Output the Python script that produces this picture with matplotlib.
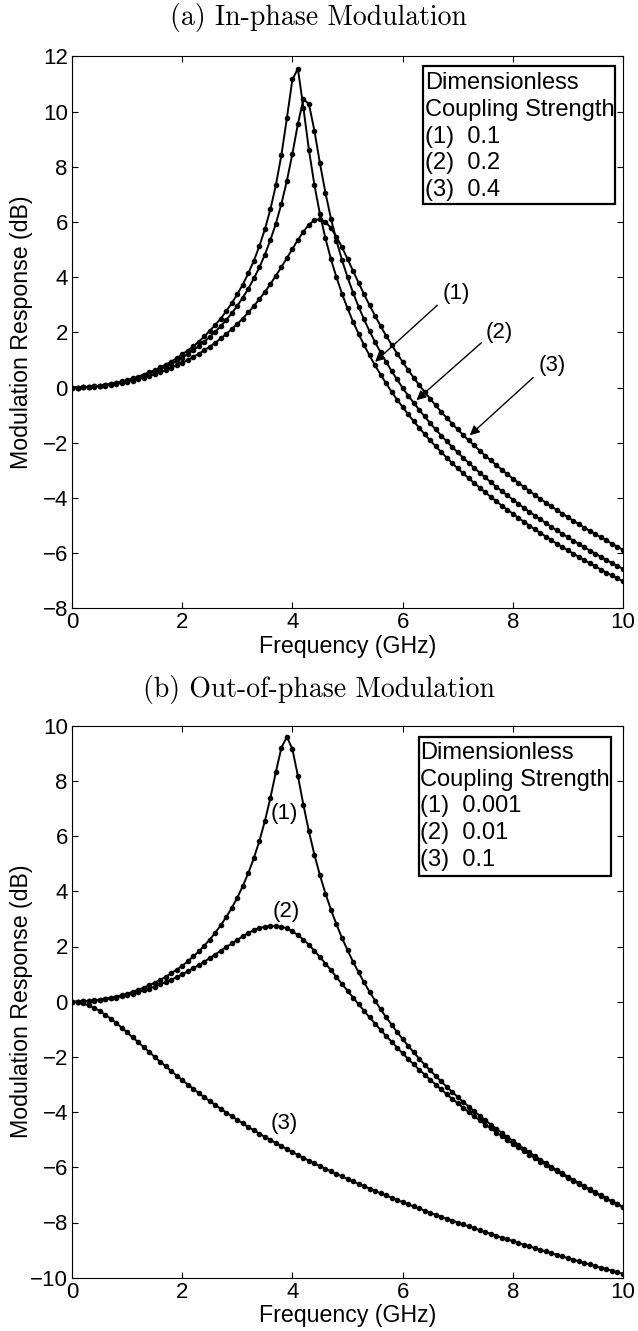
import numpy as np
import matplotlib
matplotlib.use('Agg')
import matplotlib.pyplot as plt
from matplotlib.patches import Rectangle

# Frequency grid (GHz), 0.1 GHz steps
freq = np.linspace(0, 10, 101)

# (a) In-phase modulation, dimensionless coupling strength 0.1 / 0.2 / 0.4
in_phase_1 = [0.00, 0.00, 0.01, 0.02, 0.04, 0.07, 0.10, 0.13, 0.17, 0.22,
              0.27, 0.33, 0.39, 0.47, 0.55, 0.63, 0.73, 0.83, 0.94, 1.06,
              1.20, 1.34, 1.49, 1.66, 1.85, 2.05, 2.27, 2.50, 2.77, 3.06,
              3.38, 3.73, 4.14, 4.59, 5.12, 5.73, 6.45, 7.33, 8.42, 9.76,
              11.16, 11.55, 10.13, 8.61, 7.33, 6.28, 5.40, 4.65, 3.99, 3.40,
              2.87, 2.39, 1.95, 1.54, 1.16, 0.80, 0.47, 0.15, -0.15, -0.44,
              -0.71, -0.97, -1.22, -1.46, -1.69, -1.92, -2.13, -2.34, -2.54, -2.74,
              -2.93, -3.11, -3.29, -3.46, -3.63, -3.80, -3.96, -4.12, -4.28, -4.43,
              -4.57, -4.72, -4.86, -5.00, -5.14, -5.27, -5.40, -5.53, -5.66, -5.78,
              -5.90, -6.02, -6.14, -6.26, -6.37, -6.48, -6.60, -6.71, -6.81, -6.92,
              -7.02]
in_phase_2 = [0.00, 0.00, 0.01, 0.02, 0.04, 0.06, 0.09, 0.12, 0.16, 0.20,
              0.25, 0.30, 0.36, 0.42, 0.50, 0.57, 0.66, 0.75, 0.85, 0.96,
              1.08, 1.21, 1.35, 1.49, 1.66, 1.83, 2.02, 2.22, 2.45, 2.69,
              2.96, 3.26, 3.58, 3.95, 4.35, 4.81, 5.34, 5.94, 6.65, 7.49,
              8.47, 9.55, 10.45, 10.27, 9.30, 8.12, 7.05, 6.12, 5.32, 4.62,
              4.00, 3.44, 2.93, 2.47, 2.04, 1.65, 1.27, 0.93, 0.60, 0.29,
              -0.01, -0.29, -0.55, -0.81, -1.05, -1.29, -1.52, -1.74, -1.95, -2.15,
              -2.35, -2.55, -2.73, -2.91, -3.09, -3.26, -3.43, -3.60, -3.75, -3.91,
              -4.06, -4.21, -4.36, -4.50, -4.64, -4.78, -4.91, -5.05, -5.18, -5.30,
              -5.43, -5.55, -5.67, -5.79, -5.91, -6.02, -6.14, -6.25, -6.36, -6.47,
              -6.57]
in_phase_3 = [0.00, 0.00, 0.01, 0.02, 0.03, 0.05, 0.07, 0.10, 0.13, 0.17,
              0.21, 0.25, 0.30, 0.36, 0.42, 0.48, 0.55, 0.63, 0.71, 0.80,
              0.89, 1.00, 1.10, 1.22, 1.35, 1.48, 1.62, 1.78, 1.94, 2.12,
              2.30, 2.50, 2.72, 2.95, 3.20, 3.46, 3.75, 4.05, 4.36, 4.69,
              5.02, 5.35, 5.65, 5.90, 6.06, 6.10, 6.00, 5.78, 5.46, 5.08,
              4.66, 4.23, 3.80, 3.38, 2.98, 2.60, 2.23, 1.88, 1.55, 1.23,
              0.93, 0.64, 0.36, 0.09, -0.16, -0.41, -0.65, -0.88, -1.10, -1.31,
              -1.52, -1.72, -1.92, -2.10, -2.29, -2.47, -2.64, -2.81, -2.98, -3.14,
              -3.30, -3.45, -3.60, -3.75, -3.89, -4.04, -4.17, -4.31, -4.44, -4.57,
              -4.70, -4.83, -4.95, -5.08, -5.20, -5.31, -5.43, -5.54, -5.66, -5.77,
              -5.88]

# (b) Out-of-phase modulation, dimensionless coupling strength 0.001 / 0.01 / 0.1
out_phase_1 = [0.00, 0.00, 0.01, 0.03, 0.05, 0.07, 0.10, 0.14, 0.18, 0.23,
               0.29, 0.36, 0.43, 0.51, 0.59, 0.69, 0.79, 0.90, 1.03, 1.16,
               1.30, 1.46, 1.64, 1.82, 2.03, 2.25, 2.50, 2.77, 3.07, 3.40,
               3.77, 4.19, 4.66, 5.20, 5.82, 6.54, 7.38, 8.32, 9.20, 9.60,
               9.15, 8.18, 7.13, 6.17, 5.32, 4.58, 3.92, 3.33, 2.80, 2.31,
               1.87, 1.45, 1.07, 0.70, 0.36, 0.04, -0.27, -0.56, -0.83, -1.10,
               -1.35, -1.60, -1.83, -2.06, -2.28, -2.49, -2.69, -2.89, -3.08, -3.27,
               -3.45, -3.63, -3.80, -3.97, -4.13, -4.29, -4.45, -4.60, -4.75, -4.90,
               -5.04, -5.18, -5.32, -5.46, -5.59, -5.72, -5.85, -5.98, -6.10, -6.22,
               -6.34, -6.46, -6.57, -6.69, -6.80, -6.91, -7.02, -7.13, -7.23, -7.34,
               -7.44]
out_phase_2 = [0.00, 0.00, 0.01, 0.02, 0.04, 0.06, 0.09, 0.12, 0.15, 0.19,
               0.24, 0.29, 0.35, 0.41, 0.47, 0.55, 0.63, 0.71, 0.80, 0.89,
               0.99, 1.10, 1.21, 1.33, 1.45, 1.58, 1.71, 1.85, 1.98, 2.11,
               2.24, 2.37, 2.49, 2.59, 2.67, 2.72, 2.74, 2.74, 2.72, 2.66,
               2.55, 2.41, 2.25, 2.06, 1.84, 1.62, 1.38, 1.14, 0.89, 0.64,
               0.40, 0.15, -0.09, -0.33, -0.57, -0.79, -1.02, -1.24, -1.45, -1.66,
               -1.87, -2.07, -2.27, -2.46, -2.64, -2.83, -3.00, -3.18, -3.35, -3.52,
               -3.68, -3.84, -4.00, -4.15, -4.30, -4.45, -4.59, -4.74, -4.87, -5.01,
               -5.15, -5.28, -5.41, -5.54, -5.66, -5.79, -5.91, -6.03, -6.15, -6.26,
               -6.38, -6.49, -6.60, -6.71, -6.82, -6.93, -7.03, -7.14, -7.24, -7.34,
               -7.44]
out_phase_3 = [0.00, -0.01, -0.06, -0.13, -0.22, -0.33, -0.47, -0.61, -0.77, -0.94,
               -1.11, -1.29, -1.46, -1.64, -1.82, -2.00, -2.17, -2.34, -2.51, -2.68,
               -2.84, -3.00, -3.15, -3.31, -3.46, -3.60, -3.74, -3.88, -4.02, -4.15,
               -4.28, -4.41, -4.54, -4.66, -4.78, -4.90, -5.01, -5.12, -5.23, -5.34,
               -5.45, -5.55, -5.66, -5.76, -5.86, -5.96, -6.05, -6.15, -6.24, -6.33,
               -6.42, -6.51, -6.60, -6.69, -6.77, -6.86, -6.94, -7.02, -7.10, -7.18,
               -7.26, -7.34, -7.42, -7.49, -7.57, -7.64, -7.72, -7.79, -7.86, -7.93,
               -8.00, -8.07, -8.14, -8.21, -8.28, -8.35, -8.41, -8.48, -8.55, -8.61,
               -8.67, -8.74, -8.80, -8.86, -8.93, -8.99, -9.05, -9.11, -9.17, -9.23,
               -9.29, -9.35, -9.41, -9.47, -9.52, -9.58, -9.64, -9.69, -9.75, -9.81,
               -9.86]

titles = ['(a) In-phase Modulation', '(b) Out-of-phase Modulation']
legend_a = ['Dimensionless', 'Coupling Strength', '(1)  0.1', '(2)  0.2', '(3)  0.4']
legend_b = ['Dimensionless', 'Coupling Strength', '(1)  0.001', '(2)  0.01', '(3)  0.1']
curve_labels = ['(1)', '(2)', '(3)']

plt.rcParams['font.family'] = ['Liberation Sans', 'DejaVu Sans']
fig = plt.figure(figsize=(6.38, 13.31), dpi=100)
ax1 = fig.add_axes([72/638, 1-608.3/1331, 551/638, 552/1331])
ax2 = fig.add_axes([72/638, 1-1277.7/1331, 551/638, 552/1331])
for ax, ys, yl in [(ax1, [in_phase_1, in_phase_2, in_phase_3], (-8, 12)),
                   (ax2, [out_phase_1, out_phase_2, out_phase_3], (-10, 10))]:
    for y in ys:
        ax.plot(freq, y, '-', color='black', lw=1.4, marker='o', ms=3.0)
    ax.set_xlim(0, 10); ax.set_ylim(*yl)
    ax.set_xticks(range(0, 11, 2)); ax.set_yticks(range(yl[0], yl[1]+1, 2))
    ax.tick_params(direction='in', length=4, top=True, right=True, labelsize=16, pad=3)
    ax.set_xlabel('Frequency (GHz)', fontsize=16.7)
    ax.set_ylabel('Modulation Response (dB)', fontsize=16.7)
    ax.xaxis.set_label_coords(0.5, -0.048)
    ax.yaxis.set_label_coords(-0.071, 0.5)

def legend(ax, x0, x1, y0, y1, lines, ys, xt):
    ax.add_patch(Rectangle((x0, y0), x1-x0, y1-y0, transform=ax.transAxes,
                           fill=True, facecolor='white', edgecolor='black', lw=1.6, zorder=5))
    for s, yy in zip(lines, ys):
        ax.text(xt, yy, s, transform=ax.transAxes, fontsize=17, va='center', ha='left', zorder=6)

legend(ax1, 0.6376, 0.9855, 0.732, 0.983, legend_a,
       [0.951, 0.903, 0.854, 0.806, 0.758], 0.6405)
legend(ax2, 0.6303, 0.978, 0.7277, 0.979, legend_b,
       [0.950, 0.902, 0.854, 0.806, 0.757], 0.6318)

for lab, txt, tail, head in zip(curve_labels,
                                [(6.98, 3.41), (7.75, 2.01), (8.71, 0.81)],
                                [(6.63, 2.98), (7.43, 1.62), (8.37, 0.36)],
                                [(5.50, 0.93), (6.25, -0.46), (7.22, -1.73)]):
    ax1.text(*txt, lab, fontsize=16, ha='center', va='center')
    ax1.annotate('', xy=head, xytext=tail,
                 arrowprops=dict(arrowstyle='-|>', color='black', lw=1.0, mutation_scale=14,
                                 shrinkA=0, shrinkB=0))
for lab, txt in zip(curve_labels, [(3.85, 6.83), (3.89, 3.26), (3.86, -4.43)]):
    ax2.text(*txt, lab, fontsize=16, ha='center', va='center')

fig.text(0.5, 1-18/1331, titles[0], family='cmr10', fontsize=20, ha='center', va='center')
fig.text(0.5, 1-690/1331, titles[1], family='cmr10', fontsize=20, ha='center', va='center')
fig.savefig('out.png', dpi=100)
